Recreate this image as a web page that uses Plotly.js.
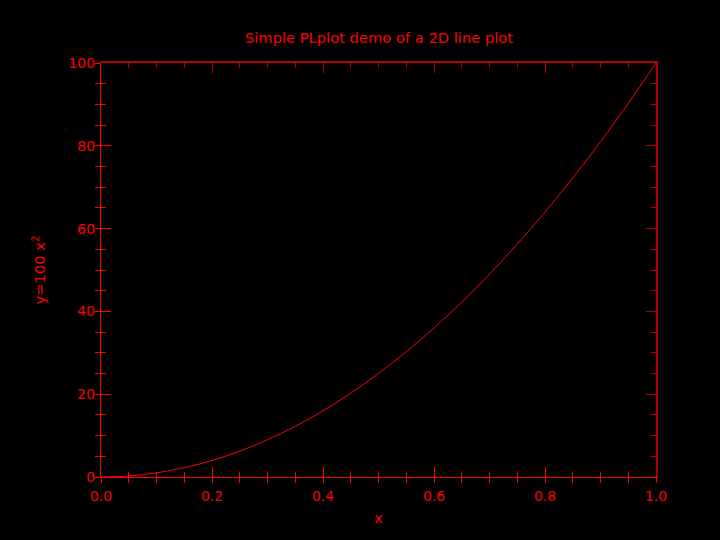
<!DOCTYPE html>
<html>
<head>
<meta charset="utf-8">
<script src="https://cdn.plot.ly/plotly-3.0.1.min.js"></script>
<style>html,body{margin:0;padding:0;background:#000;}#chart{width:720px;height:540px;}</style>
</head>
<body>
<div id="chart"></div>
<script>
// Values
const xValues = [0, 0.05, 0.1, 0.15, 0.2, 0.25, 0.3, 0.35, 0.4, 0.45, 0.5, 0.55, 0.6, 0.65, 0.7, 0.75, 0.8, 0.85, 0.9, 0.95, 1.0];
const yValues = [0, 0.25, 1, 2.25, 4, 6.25, 9, 12.25, 16, 20.25, 25, 30.25, 36, 42.25, 49, 56.25, 64, 72.25, 81, 90.25, 100];
const xTickVals = [0, 0.2, 0.4, 0.6, 0.8, 1.0];
const xTickText = ['0.0', '0.2', '0.4', '0.6', '0.8', '1.0'];
const yTickVals = [0, 20, 40, 60, 80, 100];
const yTickText = ['0', '20', '40', '60', '80', '100'];

const RED = '#ff0000';
const DARK = '#b00000';
const FONT = 'DejaVu Sans, sans-serif';

const trace = {
  x: xValues, y: yValues, type: 'scatter', mode: 'lines',
  line: {color: RED, width: 1, shape: 'spline'},
  hoverinfo: 'skip', showlegend: false
};
// invisible carriers so the overlay axes get drawn
const ghost2 = {x: xValues, y: yValues, xaxis: 'x2', yaxis: 'y2', type: 'scatter', mode: 'lines',
  line: {color: 'rgba(0,0,0,0)', width: 0}, hoverinfo: 'skip', showlegend: false};
const ghost3 = {x: xValues, y: yValues, xaxis: 'x3', yaxis: 'y3', type: 'scatter', mode: 'lines',
  line: {color: 'rgba(0,0,0,0)', width: 0}, hoverinfo: 'skip', showlegend: false};

const common = {showgrid: false, zeroline: false, fixedrange: true};

const layout = {
  width: 720, height: 540,
  paper_bgcolor: '#000', plot_bgcolor: '#000',
  margin: {l: 101, r: 64, t: 63, b: 63, pad: 0},
  font: {family: FONT, color: RED, size: 14},
  title: {text: 'Simple PLplot demo of a 2D line plot', font: {family: FONT, size: 14.7, color: RED},
          x: 379/720, xanchor: 'center', y: 1 - 38/540, yref: 'container', yanchor: 'middle'},
  xaxis: Object.assign({}, common, {
    range: [0, 1], side: 'bottom', anchor: 'y',
    showline: true, linecolor: RED, linewidth: 1,
    tickmode: 'array', tickvals: xTickVals, ticktext: xTickText,
    ticks: 'inside', ticklen: 10, tickcolor: RED, tickwidth: 1,
    minor: {dtick: 0.05, tick0: 0, ticks: 'inside', ticklen: 5, tickcolor: RED, tickwidth: 1, showgrid: false},
    tickfont: {family: FONT, size: 14, color: RED}, ticklabelstandoff: 6,
    title: {text: 'x', font: {family: FONT, size: 14.7, color: RED}, standoff: 9}
  }),
  xaxis2: Object.assign({}, common, {
    range: [0, 1], overlaying: 'x', side: 'bottom', anchor: 'y2',
    showline: false, showticklabels: false,
    tickmode: 'array', tickvals: xTickVals, ticks: 'outside', ticklen: 1, tickcolor: RED,
    minor: {dtick: 0.05, tick0: 0, ticks: 'outside', ticklen: 5, tickcolor: RED, tickwidth: 1, showgrid: false}
  }),
  xaxis3: Object.assign({}, common, {
    range: [0, 1], overlaying: 'x', side: 'top', anchor: 'y3',
    showline: true, linecolor: DARK, linewidth: 2, showticklabels: false,
    tickmode: 'array', tickvals: xTickVals, ticks: 'inside', ticklen: 10, tickcolor: DARK, tickwidth: 1,
    minor: {dtick: 0.05, tick0: 0, ticks: 'inside', ticklen: 5, tickcolor: DARK, tickwidth: 1, showgrid: false}
  }),
  yaxis: Object.assign({}, common, {
    range: [0, 100], side: 'left', anchor: 'x',
    showline: true, linecolor: RED, linewidth: 1,
    tickmode: 'array', tickvals: yTickVals, ticktext: yTickText,
    ticks: 'inside', ticklen: 10, tickcolor: RED, tickwidth: 1,
    minor: {dtick: 5, tick0: 0, ticks: 'inside', ticklen: 5, tickcolor: RED, tickwidth: 1, showgrid: false},
    tickfont: {family: FONT, size: 14, color: RED}, ticklabelstandoff: 2,
    title: {text: 'y=100 x<sup>2</sup>', font: {family: FONT, size: 14.7, color: RED}, standoff: 19}
  }),
  yaxis2: Object.assign({}, common, {
    range: [0, 100], overlaying: 'y', side: 'left', anchor: 'x2',
    showline: false, showticklabels: false,
    tickmode: 'array', tickvals: yTickVals, ticks: 'outside', ticklen: 4, tickcolor: RED,
    minor: {dtick: 5, tick0: 0, ticks: 'outside', ticklen: 5, tickcolor: RED, tickwidth: 1, showgrid: false}
  }),
  yaxis3: Object.assign({}, common, {
    range: [0, 100], overlaying: 'y', side: 'right', anchor: 'x3',
    showline: true, linecolor: DARK, linewidth: 2, showticklabels: false,
    tickmode: 'array', tickvals: yTickVals, ticks: 'inside', ticklen: 10, tickcolor: DARK, tickwidth: 1,
    minor: {dtick: 5, tick0: 0, ticks: 'inside', ticklen: 5, tickcolor: DARK, tickwidth: 1, showgrid: false}
  })
};

Plotly.newPlot('chart', [ghost2, ghost3, trace], layout, {staticPlot: true, displayModeBar: false});
</script>
</body>
</html>
